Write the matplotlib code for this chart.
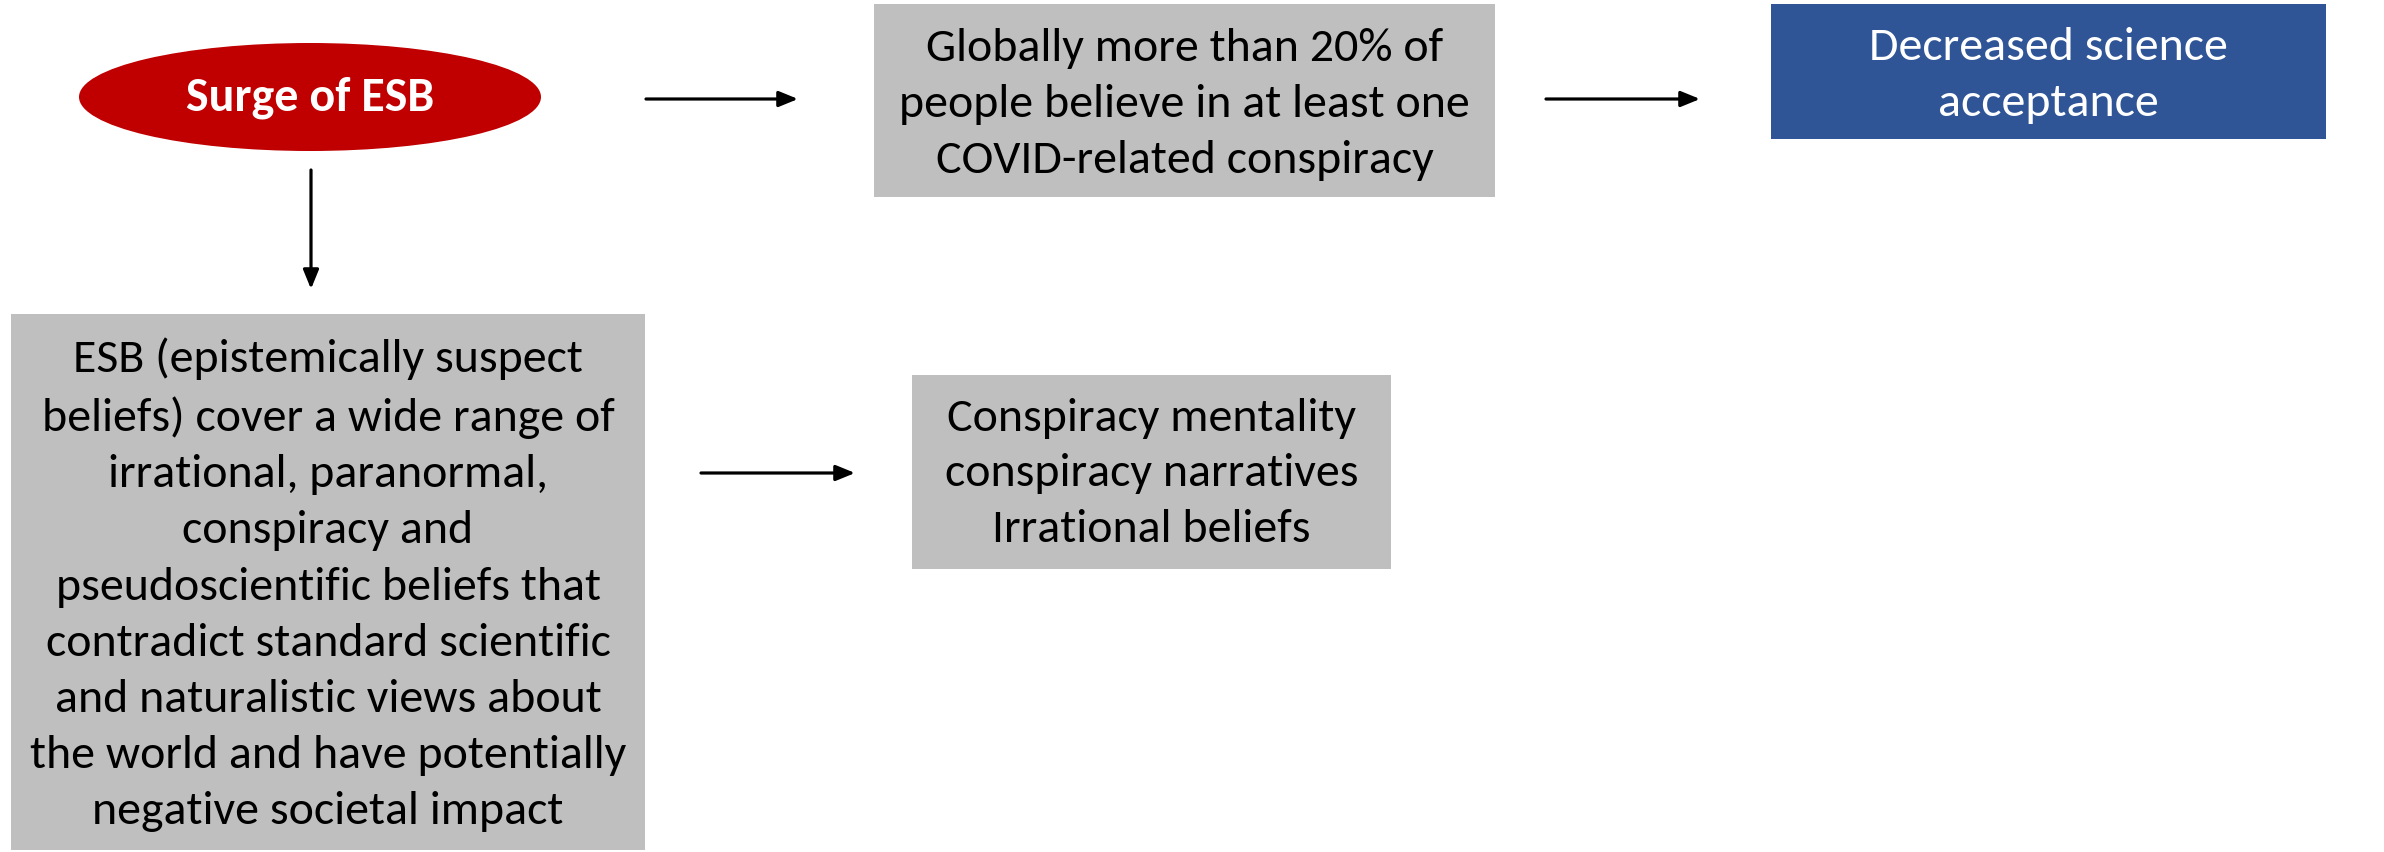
''' Flow diagram: surge of epistemically suspect beliefs (ESB) '''

import matplotlib.pyplot as plt
from matplotlib.patches import Ellipse, Rectangle

# box texts
start_label = "Surge of ESB"
top_box_text = ["Globally more than 20% of",
                "people believe in at least one",
                "COVID-related conspiracy"]
outcome_text = ["Decreased science", "acceptance"]
esb_text = ["ESB (epistemically suspect",
            "beliefs) cover a wide range of",
            "irrational, paranormal,",
            "conspiracy and",
            "pseudoscientific beliefs that",
            "contradict standard scientific",
            "and naturalistic views about",
            "the world and have potentially",
            "negative societal impact"]
kinds_text = ["Conspiracy mentality", "conspiracy narratives", "Irrational beliefs"]

RED = "#C00000"
BLUE = "#2F5597"
GREY = "#BFBFBF"
FONT = ["Carlito", "DejaVu Sans"]
FS = 34.5

W, H = 2384, 853


def box(ax, x0, y0, x1, y1, color, lines, tcolor="black", ls=1.46, dy=3):
    ax.add_patch(Rectangle((x0, y0), x1 - x0, y1 - y0, facecolor=color, edgecolor="none"))
    ax.text((x0 + x1) / 2, (y0 + y1) / 2 + dy, "\n".join(lines), ha="center", va="center",
            fontsize=FS, color=tcolor, family=FONT, linespacing=ls)


def arrow(ax, x0, y0, x1, y1):
    ax.annotate("", xy=(x1, y1), xytext=(x0, y0),
                arrowprops=dict(arrowstyle="-|>,head_length=1.15,head_width=0.47",
                                mutation_scale=10, lw=2.3, color="black",
                                shrinkA=0, shrinkB=0))


def plot_diagram():
    fig = plt.figure(figsize=(W / 100, H / 100), dpi=100)
    ax = fig.add_axes([0, 0, 1, 1])
    ax.set_xlim(0, W)
    ax.set_ylim(H, 0)
    ax.axis("off")

    # start ellipse
    ax.add_patch(Ellipse((310, 98), 462, 108, facecolor=RED, edgecolor="none"))
    ax.text(310, 98, start_label, ha="center", va="center", fontsize=FS,
            fontweight="bold", color="white", family=FONT)

    box(ax, 874, 5, 1495, 198, GREY, top_box_text)
    box(ax, 1771, 5, 2326, 140, BLUE, outcome_text, tcolor="white")
    box(ax, 11, 315, 645, 851, GREY, esb_text, dy=2)
    box(ax, 912, 376, 1391, 570, GREY, kinds_text, ls=1.44, dy=1)

    arrow(ax, 646, 100, 798, 100)
    arrow(ax, 1546, 100, 1700, 100)
    arrow(ax, 311, 171, 311, 290)
    arrow(ax, 701, 474, 855, 474)

    fig.savefig("out.png", dpi=100)


if __name__ == "__main__":
    plot_diagram()
